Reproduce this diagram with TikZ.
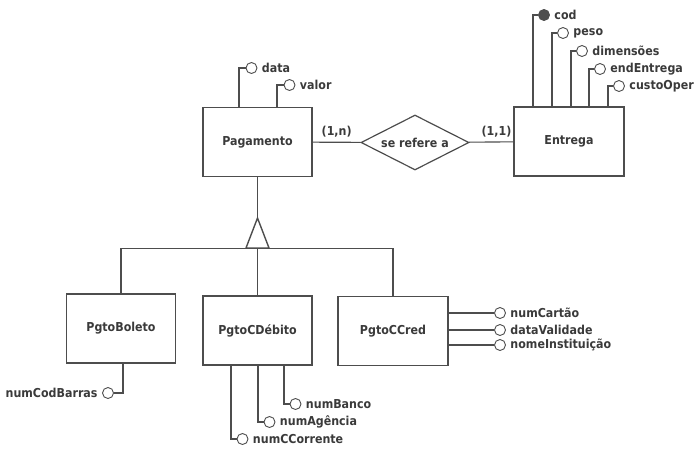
\documentclass[tikz,border=0pt]{standalone}
\usepackage{fontspec}
\setmainfont{DejaVu Sans}[FakeStretch=0.9]
\usepackage{tikz}
\usetikzlibrary{shapes.geometric}
\definecolor{linha}{RGB}{77,77,77}
\definecolor{texto}{RGB}{58,58,58}

\begin{document}
\begin{tikzpicture}[x=1pt,y=-1pt,
    font=\bfseries\fontsize{12.3}{14}\selectfont, text=texto,
    entidade/.style={draw=linha, line width=1.2pt, fill=white,
      minimum width=109pt, minimum height=69pt, inner sep=0pt},
    relac/.style={diamond, aspect=2, draw=linha, line width=1.2pt,
      minimum width=108pt, minimum height=55pt, inner sep=0pt},
    atrib/.style={circle, draw=linha, line width=0.9pt, fill=white,
      minimum size=11pt, inner sep=0pt},
    chave/.style={atrib, fill=linha},
    liga/.style={draw=linha, line width=1.1pt}]
    \useasboundingbox (0,0) rectangle (695,450);

    % entidades e relacionamento
    \node[entidade] (pag) at (257.5,142) {Pagamento};
    \node[relac]    (rel) at (415,142.5) {se refere a};
    \node[entidade, minimum width=110pt] (ent) at (569,141.5) {Entrega};

    \draw[liga] (pag) -- node[above=1pt] {(1,n)} (rel);
    \draw[liga] (rel) -- node[above=1pt, pos=0.62] {(1,1)} (ent);

    % atributos de Pagamento
    \node[atrib, label={[label distance=1pt]right:data}]  (pdata)  at (251.5,68) {};
    \node[atrib, label={[label distance=1pt]right:valor}] (pvalor) at (289.5,85) {};
    \draw[liga] (pdata)  -| (pag.north -| 239,0);
    \draw[liga] (pvalor) -| (pag.north -| 277,0);

    % atributos de Entrega
    \node[chave, label={[label distance=1pt]right:cod}] (ecod) at (544,15) {};
    \draw[liga] (ecod) -| (ent.north -| 533,0);
    \foreach \txt/\lx/\ly [count=\i] in {peso/552/33, dimensões/571/51,
        endEntrega/589/69, custoOper/608/86} {
      \node[atrib, label={[label distance=1pt]right:\txt}] (ea\i) at (\lx+11,\ly) {};
      \draw[liga] (ea\i) -| (ent.north -| \lx,0);
    }

    % especializacao
    \coordinate (topo) at (257.5,218);
    \coordinate (barra) at (257.5,248.5);
    \draw[liga, line width=1.4pt] (topo) -- ++(-11.5,30) -- ++(23,0) -- cycle;
    \draw[liga] (pag) -- (topo);

    \node[entidade] (bol) at (121,328.5) {PgtoBoleto};
    \node[entidade] (deb) at (257.5,330.5) {PgtoCDébito};
    \node[entidade, minimum width=110pt] (ccr) at (393,331) {PgtoCCred};

    \draw[liga] (bol.north) |- (barra) -| (ccr.north);
    \draw[liga] (barra) -- (deb.north);

    % atributos de PgtoBoleto
    \node[atrib, label={[label distance=1pt]left:numCodBarras}] (bcod) at (108,393) {};
    \draw[liga] (bcod) -| (bol.south -| 123,0);

    % atributos de PgtoCDebito
    \foreach \txt/\lx/\ly [count=\i] in {numBanco/284/404, numAgência/258/422,
        numCCorrente/231/439} {
      \node[atrib, label={[label distance=1pt]right:\txt}] (da\i) at (\lx+11.5,\ly) {};
      \draw[liga] (da\i) -| (deb.south -| \lx,0);
    }

    % atributos de PgtoCCred
    \foreach \txt/\ly [count=\i] in {numCartão/313, dataValidade/330,
        nomeInstituição/345} {
      \node[atrib, label={[label distance=1pt]right:\txt}] (ca\i) at (500,\ly) {};
      \draw[liga] (ccr.east |- ca\i) -- (ca\i);
    }
\end{tikzpicture}
\end{document}
